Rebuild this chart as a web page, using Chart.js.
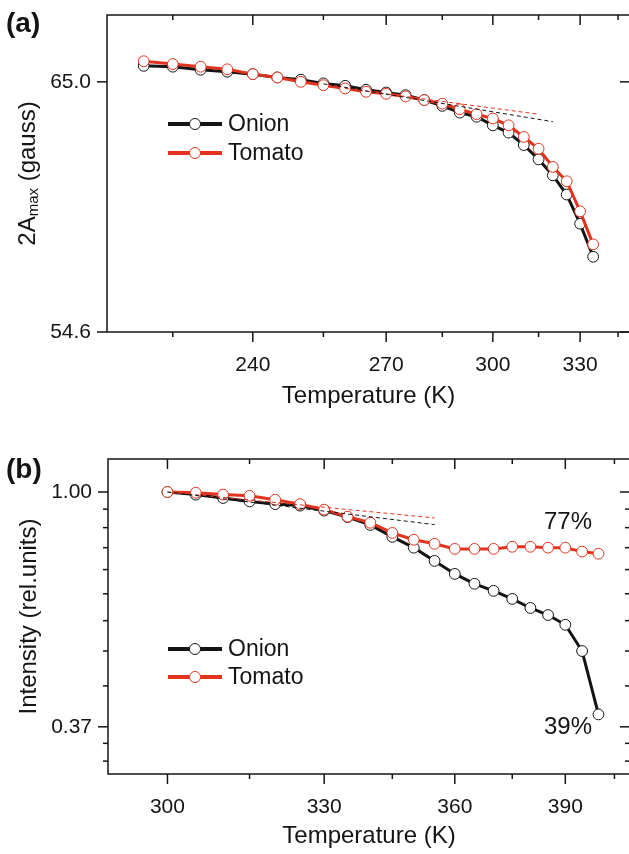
<!DOCTYPE html>
<html>
<head>
<meta charset="utf-8">
<script src="https://cdn.jsdelivr.net/npm/chart.js@4.4.1/dist/chart.umd.min.js"></script>
<style>
  html, body { margin: 0; padding: 0; background: #fff; }
  #page { position: relative; width: 629px; height: 854px; overflow: hidden; }
  .panel { position: absolute; left: 0; width: 632px; }
  #panelA { top: 0; height: 420px; }
  #panelB { top: 420px; height: 434px; }
</style>
</head>
<body>
<div id="page">
  <div class="panel" id="panelA"><canvas id="chartA" width="632" height="420"></canvas></div>
  <div class="panel" id="panelB"><canvas id="chartB" width="632" height="434"></canvas></div>
</div>
<script>
// (a) hyperfine splitting 2Amax (gauss) vs temperature (K)
const tempsA = [220, 225, 230, 235, 240, 245, 250, 255, 260, 265, 270, 275,
                280, 285, 290, 295, 300, 305, 310, 315, 320, 325, 330, 335];
const onionA = [65.73, 65.69, 65.55, 65.46, 65.35, 65.20, 65.10, 64.93, 64.82, 64.64, 64.52, 64.40,
                64.18, 63.92, 63.62, 63.44, 63.06, 62.74, 62.20, 61.58, 60.90, 60.09, 58.88, 57.54];
const tomatoA = [65.94, 65.81, 65.69, 65.57, 65.35, 65.20, 65.00, 64.85, 64.70, 64.55, 64.46, 64.34,
                 64.18, 64.02, 63.77, 63.55, 63.36, 63.06, 62.55, 62.04, 61.26, 60.65, 59.39, 58.04];
// linear (Arrhenius) extrapolations
const fitTempsOnionA = [255, 320];
const fitOnionA = [64.91, 63.22];
const fitTempsTomatoA = [260, 315];
const fitTomatoA = [64.70, 63.55];

// (b) relative intensity vs temperature (K)
const tempsB = [300, 305, 310, 315, 320, 325, 330, 335, 340, 345, 350,
                355, 360, 365, 370, 375, 380, 385, 390, 395, 400];
const onionB = [1.00, 0.989, 0.975, 0.961, 0.950, 0.944, 0.924, 0.899, 0.870, 0.827, 0.790,
                0.747, 0.707, 0.678, 0.658, 0.636, 0.612, 0.594, 0.570, 0.510, 0.39];
const tomatoB = [1.00, 0.997, 0.989, 0.984, 0.968, 0.950, 0.928, 0.901, 0.878, 0.841, 0.817,
                 0.803, 0.786, 0.786, 0.786, 0.793, 0.793, 0.790, 0.790, 0.777, 0.77];
const fitTempsB = [300, 355];
const fitOnionB = [1.00, 0.871];
const fitTomatoB = [1.00, 0.896];

// axis ticks and ranges
const tRangeA = [214, 350];
const yRangeA = [54.6, 68.1];
const xMajorA = [240, 270, 300, 330];
const xMinorA = [225, 255, 285, 315, 345];
const yMajorA = [54.6, 65.0];
const yMinorA = [];

const tRangeB = [290, 410];
const yRangeB = [0.303, 1.15];
const xMajorB = [300, 330, 360, 390];
const xMinorB = [315, 345, 375, 405];
const yMajorB = [0.37, 1.00];
const yMinorB = [0.32, 0.345, 0.44, 0.51, 0.58, 0.65, 0.72, 0.79, 0.86, 0.93];

const seriesLabels = ["Onion", "Tomato"];
const ink = "#141414";
const red = "#e2331f";
const family = "'Liberation Sans', Arial, Helvetica, sans-serif";

Chart.defaults.font.family = family;
Chart.defaults.font.size = 21;
Chart.defaults.color = ink;

const toPoints = (temps, vals) => temps.map((t, i) => ({ x: 1000 / t, y: vals[i] }));

function seriesSet(color, label, temps, vals, order) {
  return {
    label,
    data: toPoints(temps, vals),
    borderColor: color,
    borderWidth: 3,
    pointRadius: 5.4,
    pointBorderWidth: 1,
    pointBorderColor: color,
    pointBackgroundColor: "#fff",
    tension: 0,
    order,
  };
}

function fitSet(color, temps, vals) {
  return {
    label: "",
    data: toPoints(temps, vals),
    borderColor: color,
    borderWidth: 1,
    borderDash: [4, 3],
    pointRadius: 0,
    order: 0,
  };
}

// frame with inward ticks on top/right, outward on bottom/left
const frameTicks = {
  id: "frameTicks",
  afterDraw(chart, args, o) {
    const { ctx, chartArea: a, scales: { x, y } } = chart;
    ctx.save();
    ctx.strokeStyle = ink;
    ctx.lineWidth = 1.5;
    ctx.strokeRect(a.left, a.top, a.right - a.left, a.bottom - a.top);
    const seg = (x1, y1, x2, y2) => {
      ctx.beginPath(); ctx.moveTo(x1, y1); ctx.lineTo(x2, y2); ctx.stroke();
    };
    const xt = (list, len) => list.forEach(t => {
      const px = x.getPixelForValue(1000 / t);
      seg(px, a.bottom, px, a.bottom + len);
      seg(px, a.top, px, a.top + len);
    });
    const yt = (list, len) => list.forEach(v => {
      const py = y.getPixelForValue(v);
      seg(a.left, py, a.left - len, py);
      seg(a.right, py, a.right - len, py);
    });
    xt(o.xMajor, 10); xt(o.xMinor, 5);
    yt(o.yMajor, 10); yt(o.yMinor, 5);
    ctx.restore();
  }
};

// panel letter, axis titles, legend and end-point notes
const panelText = {
  id: "panelText",
  afterDraw(chart, args, o) {
    const { ctx, chartArea: a } = chart;
    ctx.save();
    ctx.fillStyle = ink;
    ctx.textBaseline = "middle";

    ctx.font = `bold 28px ${family}`;
    ctx.textAlign = "left";
    ctx.fillText(o.letter, 6, o.letterY);

    ctx.font = `24px ${family}`;
    ctx.textAlign = "center";
    ctx.fillText("Temperature (K)", (a.left + a.right) / 2, o.xTitleY);

    // rotated y title, pieces may be subscripts
    ctx.save();
    ctx.translate(o.yTitleX, (a.top + a.bottom) / 2);
    ctx.rotate(-Math.PI / 2);
    ctx.textAlign = "left";
    const fontFor = p => p.sub ? `15px ${family}` : `24px ${family}`;
    let total = 0;
    o.yTitle.forEach(p => { ctx.font = fontFor(p); total += ctx.measureText(p.text).width; });
    let cx = -total / 2;
    o.yTitle.forEach(p => {
      ctx.font = fontFor(p);
      ctx.fillText(p.text, cx, p.sub ? 6 : 0);
      cx += ctx.measureText(p.text).width;
    });
    ctx.restore();

    // legend entries
    o.legend.forEach((ly, i) => {
      const ds = chart.data.datasets[i];
      ctx.strokeStyle = ds.borderColor;
      ctx.lineWidth = 4;
      ctx.beginPath(); ctx.moveTo(o.legendX, ly); ctx.lineTo(o.legendX + 54, ly); ctx.stroke();
      ctx.beginPath(); ctx.arc(o.legendX + 27, ly, 5.5, 0, Math.PI * 2);
      ctx.fillStyle = "#fff"; ctx.fill();
      ctx.lineWidth = 1; ctx.stroke();
      ctx.fillStyle = ink;
      ctx.font = `23px ${family}`;
      ctx.textAlign = "left";
      ctx.fillText(ds.label, o.legendX + 60, ly + 1);
    });

    // notes giving the final value of each series as a percentage
    (o.notes || []).forEach(n => {
      const vals = chart.data.datasets[n.ds].data;
      const last = vals[vals.length - 1].y;
      ctx.font = `24px ${family}`;
      ctx.textAlign = "left";
      ctx.fillText(Math.round(last * 100) + "%", n.x, n.y);
    });
    ctx.restore();
  }
};

function makeChart(id, cfg) {
  return new Chart(document.getElementById(id), {
    type: "line",
    data: { datasets: cfg.datasets },
    options: {
      responsive: false,
      animation: false,
      events: [],
      layout: { autoPadding: false, padding: { top: cfg.top, right: 2, left: 0, bottom: 0 } },
      plugins: {
        legend: { display: false },
        tooltip: { enabled: false },
        frameTicks: { xMajor: cfg.xMajor, xMinor: cfg.xMinor, yMajor: cfg.yMajor, yMinor: cfg.yMinor },
        panelText: cfg.text,
      },
      scales: {
        x: {
          type: "linear",
          reverse: true,
          bounds: "data",
          min: 1000 / cfg.tRange[1],
          max: 1000 / cfg.tRange[0],
          afterBuildTicks: s => { s.ticks = cfg.xMajor.map(t => ({ value: 1000 / t })); },
          afterFit: s => { s.height = cfg.xHeight; s.paddingLeft = 0; s.paddingRight = 0; },
          grid: { display: false, drawTicks: false },
          border: { display: false },
          ticks: {
            padding: 21, autoSkip: false, maxRotation: 0,
            callback: v => Math.round(1000 / v),
          },
        },
        y: {
          type: "logarithmic",
          bounds: "data",
          min: cfg.yRange[0],
          max: cfg.yRange[1],
          afterBuildTicks: s => { s.ticks = cfg.yMajor.map(v => ({ value: v })); },
          afterFit: s => { s.width = cfg.yWidth; s.paddingTop = 0; s.paddingBottom = 0; },
          grid: { display: false, drawTicks: false },
          border: { display: false },
          ticks: { padding: 16, callback: v => v.toFixed(cfg.yDigits) },
        },
      },
    },
    plugins: [frameTicks, panelText],
  });
}

makeChart("chartA", {
  datasets: [
    seriesSet(ink, seriesLabels[0], tempsA, onionA, 2),
    seriesSet(red, seriesLabels[1], tempsA, tomatoA, 1),
    fitSet(ink, fitTempsOnionA, fitOnionA),
    fitSet(red, fitTempsTomatoA, fitTomatoA),
  ],
  top: 15, xHeight: 88, yWidth: 107,
  tRange: tRangeA, yRange: yRangeA, yDigits: 1,
  xMajor: xMajorA, xMinor: xMinorA, yMajor: yMajorA, yMinor: yMinorA,
  text: {
    letter: "(a)", letterY: 24, xTitleY: 396, yTitleX: 28,
    yTitle: [{ text: "2A" }, { text: "max", sub: true }, { text: " (gauss)" }],
    legendX: 168, legend: [124, 153],
  },
});

makeChart("chartB", {
  datasets: [
    seriesSet(ink, seriesLabels[0], tempsB, onionB, 2),
    seriesSet(red, seriesLabels[1], tempsB, tomatoB, 1),
    fitSet(ink, fitTempsB, fitOnionB),
    fitSet(red, fitTempsB, fitTomatoB),
  ],
  top: 39, xHeight: 80, yWidth: 108,
  tRange: tRangeB, yRange: yRangeB, yDigits: 2,
  xMajor: xMajorB, xMinor: xMinorB, yMajor: yMajorB, yMinor: yMinorB,
  text: {
    letter: "(b)", letterY: 50, xTitleY: 416, yTitleX: 29,
    yTitle: [{ text: "Intensity (rel.units)" }],
    legendX: 168, legend: [229, 257],
    notes: [{ ds: 1, x: 544, y: 102 }, { ds: 0, x: 544, y: 307 }],
  },
});
</script>
</body>
</html>
